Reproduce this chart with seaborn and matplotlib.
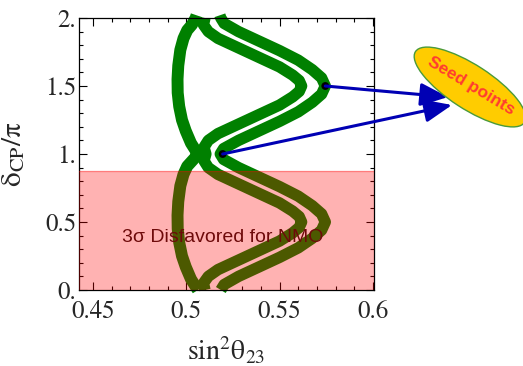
import matplotlib
matplotlib.use("Agg")
import matplotlib.pyplot as plt
import numpy as np
import pandas as pd
import seaborn as sns
from matplotlib.patches import Ellipse
from matplotlib.transforms import IdentityTransform
from matplotlib.ticker import FixedLocator, MultipleLocator

# ---------------- data ----------------
# left (bulging) band: delta_CP/pi and sin^2(theta23)
left_delta = [2.02, 2.0, 1.95, 1.91, 1.85, 1.765, 1.65, 1.55, 1.45, 1.35, 1.25, 1.17, 1.08, 1.03, 1.0,
              0.97, 0.91, 0.85, 0.765, 0.65, 0.55, 0.45, 0.35, 0.25, 0.17, 0.08, 0.03, 0.0]
left_s23 = [0.5055, 0.5050, 0.5030, 0.5005, 0.4985, 0.4968, 0.4957, 0.4953, 0.4954, 0.4962, 0.4977, 0.4997,
            0.5025, 0.5048, 0.5062,
            0.5045, 0.5005, 0.4985, 0.4968, 0.4957, 0.4953, 0.4954, 0.4962, 0.4977, 0.4997,
            0.5025, 0.5048, 0.5062]

# inner V-shaped band
inner_delta = [2.0, 1.95, 1.90, 1.85, 1.78, 1.71, 1.64, 1.58, 1.54, 1.5, 1.46, 1.42, 1.36, 1.29, 1.22,
               1.15, 1.10, 1.05, 1.0,
               0.95, 0.90, 0.85, 0.78, 0.71, 0.64, 0.58, 0.54, 0.5, 0.46, 0.42, 0.36, 0.29, 0.22,
               0.15, 0.10, 0.05, 0.0]
inner_s23 = [0.5100, 0.5092, 0.5118, 0.5170, 0.5280, 0.5390, 0.5500, 0.5570, 0.5605, 0.5618, 0.5605,
             0.5570, 0.5500, 0.5390, 0.5280, 0.5170, 0.5118, 0.5095, 0.5105,
             0.5095, 0.5118, 0.5170, 0.5280, 0.5390, 0.5500, 0.5570, 0.5605, 0.5618, 0.5605,
             0.5570, 0.5500, 0.5390, 0.5280, 0.5170, 0.5118, 0.5092, 0.5100]

# outer V-shaped band
outer_delta = [2.02, 2.0, 1.96, 1.90, 1.83, 1.76, 1.69, 1.62, 1.56, 1.5, 1.44, 1.38, 1.31, 1.24, 1.17,
               1.10, 1.04, 1.0,
               0.96, 0.90, 0.83, 0.76, 0.69, 0.62, 0.56, 0.5, 0.44, 0.38, 0.31, 0.24, 0.17,
               0.10, 0.04, 0.0]
outer_s23 = [0.5180, 0.5185, 0.5203, 0.5280, 0.5390, 0.5500, 0.5600, 0.5675, 0.5725, 0.5745, 0.5725,
             0.5675, 0.5600, 0.5500, 0.5390, 0.5280, 0.5200, 0.5182,
             0.5200, 0.5280, 0.5390, 0.5500, 0.5600, 0.5675, 0.5725, 0.5745, 0.5725,
             0.5675, 0.5600, 0.5500, 0.5390, 0.5280, 0.5203, 0.5185]

# seed points
seed_s23 = [0.5745, 0.5195]
seed_delta = [1.5, 1.0]

# disfavoured region (NMO, 3 sigma)
disfavored_max = 0.875

xticks = [0.45, 0.5, 0.55, 0.6]
xtick_labels = ["0.45", "0.5", "0.55", "0.6"]
yticks = [0.0, 0.5, 1.0, 1.5, 2.0]
ytick_labels = ["0.", "0.5", "1.", "1.5", "2."]

# ---------------- style ----------------
sns.set_style("ticks")
plt.rcParams["font.family"] = ["STIXGeneral", "DejaVu Serif"]
plt.rcParams["mathtext.fontset"] = "stix"

W, H = 523, 366
fig = plt.figure(figsize=(W / 100, H / 100), dpi=100)
ax = fig.add_axes([79 / W, (H - 290) / H, 295 / W, 272 / H])

green = "#008000"
for dlt, s23, lw in [(left_delta, left_s23, 8.6), (inner_delta, inner_s23, 8.2), (outer_delta, outer_s23, 8.2)]:
    df = pd.DataFrame({"s23": s23, "delta": dlt})
    sns.lineplot(data=df, x="s23", y="delta", sort=False, estimator=None, color=green,
                 lw=lw, ax=ax, solid_joinstyle="round", solid_capstyle="butt", clip_on=False, zorder=2)

sns.scatterplot(x=seed_s23, y=seed_delta, color="black", s=32, edgecolor="none", ax=ax, zorder=4)

ax.axhspan(0, disfavored_max, color="red", alpha=0.3, lw=0, zorder=3)
ax.axhline(disfavored_max, color="red", alpha=0.3, lw=1, zorder=3)

ax.text(0.5194, 0.386, "3σ Disfavored for NMO", color="#6e0a0a", fontsize=14,
        family=["Liberation Sans", "DejaVu Sans"], ha="center", va="center", zorder=4)

ax.set_xlim(0.4425, 0.6006)
ax.set_ylim(0, 2)
ax.xaxis.set_major_locator(FixedLocator(xticks))
ax.set_xticklabels(xtick_labels)
ax.yaxis.set_major_locator(FixedLocator(yticks))
ax.set_yticklabels(ytick_labels)
ax.xaxis.set_minor_locator(MultipleLocator(0.01))
ax.yaxis.set_minor_locator(MultipleLocator(0.1))
ax.tick_params(which="both", direction="in", top=True, right=True, width=0.8, color="black")
ax.tick_params(which="major", length=6)
ax.tick_params(which="minor", length=3.2)
ax.tick_params(axis="x", which="major", labelsize=18, pad=7)
ax.tick_params(axis="y", which="major", labelsize=18, pad=2)
for sp in ax.spines.values():
    sp.set_linewidth(0.9)
    sp.set_color("black")

ax.set_xlabel(r"$\mathrm{sin^2\theta_{23}}$", fontsize=20)
ax.set_ylabel(r"$\mathrm{\delta_{CP}/\pi}$", fontsize=21)
ax.xaxis.set_label_coords(0.498, -0.165)
ax.yaxis.set_label_coords(-0.175, 0.5)

# arrows from seed points to the label bubble
arrow_kw = dict(arrowstyle="-|>,head_length=1.2,head_width=0.5", color="#0000b4", lw=2.2,
                mutation_scale=14, shrinkA=0, shrinkB=0)
ax.annotate("", xy=(448, H - 97), xycoords="figure pixels",
            xytext=(seed_s23[0], seed_delta[0]), textcoords="data", arrowprops=arrow_kw, zorder=5)
ax.annotate("", xy=(452, H - 105), xycoords="figure pixels",
            xytext=(seed_s23[1], seed_delta[1]), textcoords="data", arrowprops=arrow_kw, zorder=5)

fig.add_artist(Ellipse((470, H - 87), 130, 44, angle=-33, transform=IdentityTransform(),
                       facecolor="#ffcc00", edgecolor="#4a9a3a", lw=1.0, zorder=6))
fig.text(471 / W, 1 - 86 / H, "Seed points", rotation=-31, ha="center", va="center",
         color="#ff3b30", fontsize=12.5, fontweight="bold",
         family=["Liberation Sans", "DejaVu Sans"], zorder=7)

fig.savefig("out.png", dpi=100)
